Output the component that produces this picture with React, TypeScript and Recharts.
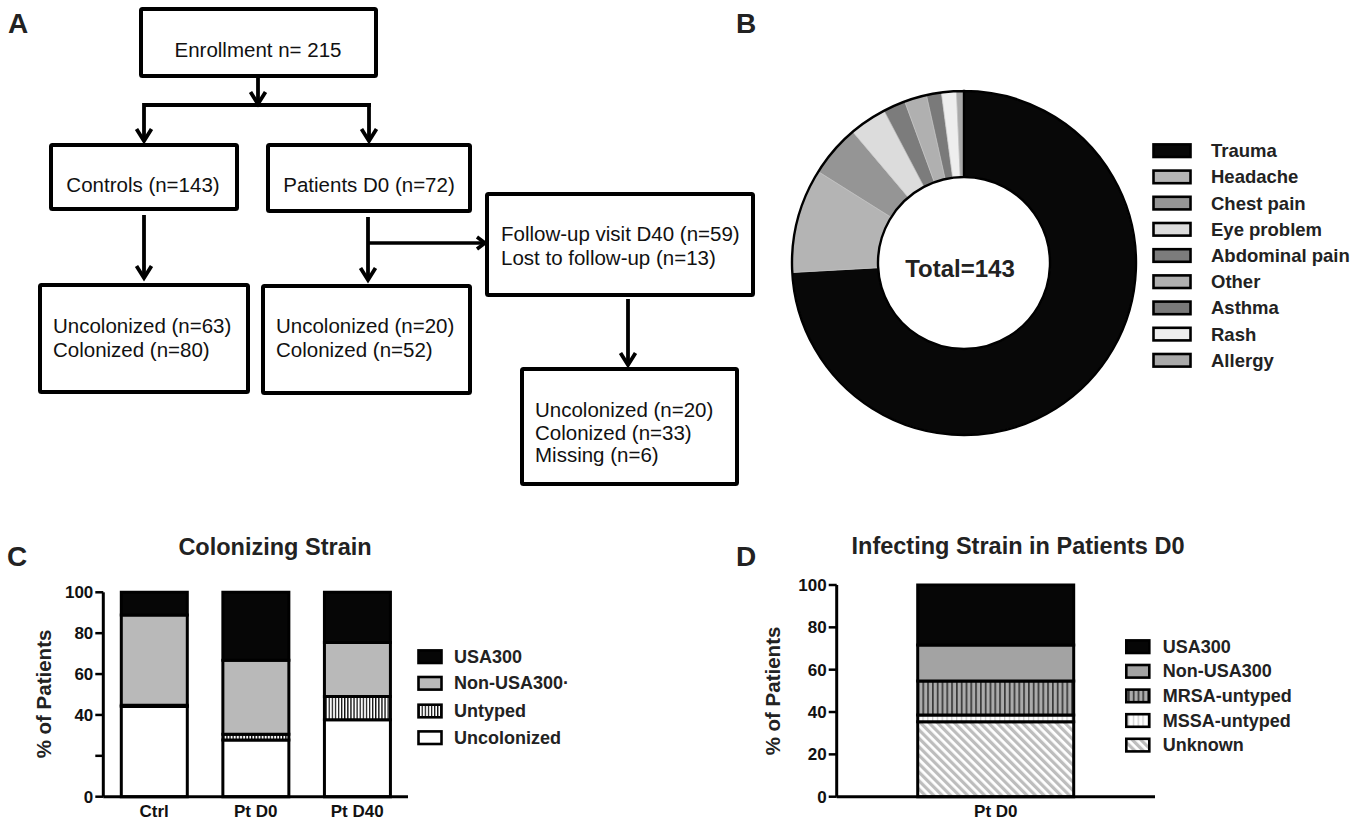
import React from 'react';
import { PieChart, Pie, Cell, BarChart, Bar, XAxis, YAxis } from 'recharts';

// ---------- Data ----------
const reasonLabels = ['Trauma', 'Headache', 'Chest pain', 'Eye problem', 'Abdominal pain', 'Other', 'Asthma', 'Rash', 'Allergy'];
const reasonCounts = [106, 14, 7, 5, 3, 3, 2, 2, 1];
const reasonColors = ['#080808', '#b4b4b4', '#959595', '#dcdcdc', '#7c7c7c', '#b0b0b0', '#7a7a7a', '#eeeeee', '#a9a9a9'];

const colGroups = ['Ctrl', 'Pt D0', 'Pt D40'];
const colUncolonized = [44.1, 27.8, 37.7];
const colUntyped = [0.7, 2.8, 11.3];
const colNonUSA300 = [44.1, 36.1, 26.4];
const colUSA300 = [11.1, 33.3, 24.6];
const colTicks = [0, 20, 40, 60, 80, 100];

const infGroups = ['Pt D0'];
const infUnknown = [35.4];
const infMSSA = [3.2];
const infMRSA = [16.0];
const infNonUSA300 = [17.1];
const infUSA300 = [28.3];
const infTicks = [0, 20, 40, 60, 80, 100];

const colLegend = ['USA300', 'Non-USA300·', 'Untyped', 'Uncolonized'];
const colLegendFill = ['#060606', '#b9b9b9', 'url(#patUntyped)', '#ffffff'];
const infLegend = ['USA300', 'Non-USA300', 'MRSA-untyped', 'MSSA-untyped', 'Unknown'];
const infLegendFill = ['#060606', '#a3a3a3', 'url(#patMRSA)', 'url(#patMSSA)', 'url(#patUnknown)'];

const pieData = reasonLabels.map((name, i) => ({ name, value: reasonCounts[i] }));
const colData = colGroups.map((g, i) => ({
  group: g,
  uncolonized: colUncolonized[i],
  untyped: colUntyped[i],
  nonusa: colNonUSA300[i],
  usa: colUSA300[i],
}));
const infData = infGroups.map((g, i) => ({
  group: g,
  unknown: infUnknown[i],
  mssa: infMSSA[i],
  mrsa: infMRSA[i],
  nonusa: infNonUSA300[i],
  usa: infUSA300[i],
}));

const FONT = '"Liberation Sans", Arial, Helvetica, sans-serif';
const W = 1368;
const H = 829;

// ---------- Flowchart helpers ----------
const LW = 4;
function Box({ x, y, w, h }: { x: number; y: number; w: number; h: number }) {
  return <rect x={x} y={y} width={w} height={h} fill="none" stroke="#000" strokeWidth={LW} rx={1.5} />;
}
function DownArrow({ x, y1, y2 }: { x: number; y1: number; y2: number }) {
  return (
    <g stroke="#000" strokeWidth={3.8} fill="none">
      <line x1={x} y1={y1} x2={x} y2={y2 - 1} />
      <polyline points={`${x - 7.5},${y2 - 12} ${x},${y2} ${x + 7.5},${y2 - 12}`} strokeLinejoin="miter" />
    </g>
  );
}
function RightArrow({ y, x1, x2 }: { y: number; x1: number; x2: number }) {
  return (
    <g stroke="#000" strokeWidth={3.6} fill="none">
      <line x1={x1} y1={y} x2={x2 - 1} y2={y} />
      <polyline points={`${x2 - 8},${y - 6} ${x2},${y} ${x2 - 8},${y + 6}`} />
    </g>
  );
}
function FT({ x, y, children, anchor = 'start' }: { x: number; y: number; children: React.ReactNode; anchor?: string }) {
  return (
    <text x={x} y={y} fontSize={20.5} fill="#111" textAnchor={anchor as any} dominantBaseline="central" fontFamily={FONT}>
      {children}
    </text>
  );
}

const tickStyle = { fill: '#111', fontSize: 17, fontWeight: 700, fontFamily: FONT };

export default function App() {
  return (
    <div style={{ position: 'absolute', left: 0, top: 0, width: W, height: H, background: '#fff', overflow: 'hidden', fontFamily: FONT }}>
      {/* Panel B pie */}
      <div style={{ position: 'absolute', left: 784, top: 83 }}>
        <PieChart width={360} height={360} margin={{ top: 0, right: 0, bottom: 0, left: 0 }}>
          <Pie
            data={pieData}
            dataKey="value"
            nameKey="name"
            cx={180}
            cy={180}
            innerRadius={86}
            outerRadius={172}
            startAngle={90}
            endAngle={-270}
            stroke="#c4c4c4"
            strokeWidth={0.6}
            isAnimationActive={false}
          >
            {pieData.map((d, i) => (
              <Cell key={d.name} fill={reasonColors[i]} />
            ))}
          </Pie>
          <Pie
            data={[{ name: 'outline', value: 1 }]}
            dataKey="value"
            cx={180}
            cy={180}
            innerRadius={86}
            outerRadius={172}
            startAngle={90}
            endAngle={-270}
            fill="none"
            stroke="#000"
            strokeWidth={2.4}
            isAnimationActive={false}
          />
        </PieChart>
      </div>

      {/* Panel C bars */}
      <div style={{ position: 'absolute', left: 0, top: 580 }}>
        <BarChart width={430} height={250} data={colData} margin={{ top: 12.3, right: 22, left: 43.3, bottom: 3.3 }} barSize={66}>
          <XAxis
            dataKey="group"
            axisLine={{ stroke: '#000', strokeWidth: 3 }}
            tickLine={false}
            tick={tickStyle}
            height={30}
          />
          <YAxis
            width={60}
            domain={[0, 100]}
            ticks={colTicks}
            interval={0}
            tickFormatter={(v: number) => (v === 20 ? '' : String(v))}
            axisLine={{ stroke: '#000', strokeWidth: 3 }}
            tickLine={{ stroke: '#000', strokeWidth: 2.5 }}
            tickSize={8}
            tick={tickStyle}
          />
          <Bar dataKey="uncolonized" stackId="a" fill="#ffffff" stroke="#000" strokeWidth={3} isAnimationActive={false} />
          <Bar dataKey="untyped" stackId="a" fill="url(#patUntyped)" stroke="#000" strokeWidth={3} isAnimationActive={false} />
          <Bar dataKey="nonusa" stackId="a" fill="#b9b9b9" stroke="#000" strokeWidth={3} isAnimationActive={false} />
          <Bar dataKey="usa" stackId="a" fill="#060606" stroke="#000" strokeWidth={3} isAnimationActive={false} />
        </BarChart>
      </div>

      {/* Panel D bars */}
      <div style={{ position: 'absolute', left: 740, top: 570 }}>
        <BarChart width={440} height={260} data={infData} margin={{ top: 15, right: 25, left: 36.7, bottom: 3.3 }} barSize={156}>
          <XAxis
            dataKey="group"
            axisLine={{ stroke: '#000', strokeWidth: 3 }}
            tickLine={false}
            tick={tickStyle}
            height={30}
          />
          <YAxis
            width={60}
            domain={[0, 100]}
            ticks={infTicks}
            interval={0}
            axisLine={{ stroke: '#000', strokeWidth: 3 }}
            tickLine={{ stroke: '#000', strokeWidth: 2.5 }}
            tickSize={8}
            tick={tickStyle}
          />
          <Bar dataKey="unknown" stackId="b" fill="url(#patUnknown)" stroke="#000" strokeWidth={3} isAnimationActive={false} />
          <Bar dataKey="mssa" stackId="b" fill="url(#patMSSA)" stroke="#000" strokeWidth={3} isAnimationActive={false} />
          <Bar dataKey="mrsa" stackId="b" fill="url(#patMRSA)" stroke="#000" strokeWidth={3} isAnimationActive={false} />
          <Bar dataKey="nonusa" stackId="b" fill="#a3a3a3" stroke="#000" strokeWidth={3} isAnimationActive={false} />
          <Bar dataKey="usa" stackId="b" fill="#060606" stroke="#000" strokeWidth={3} isAnimationActive={false} />
        </BarChart>
      </div>

      {/* Overlay: patterns, flowchart, labels, legends */}
      <svg width={W} height={H} style={{ position: 'absolute', left: 0, top: 0, pointerEvents: 'none' }}>
        <defs>
          <pattern id="patUntyped" patternUnits="userSpaceOnUse" width={3.1} height={10}>
            <rect x={0} y={0} width={3.1} height={10} fill="#fff" />
            <rect x={0} y={0} width={1.3} height={10} fill="#111" />
          </pattern>
          <pattern id="patMRSA" patternUnits="userSpaceOnUse" width={4.8} height={10}>
            <rect x={0} y={0} width={4.8} height={10} fill="#ababab" />
            <rect x={0} y={0} width={1.7} height={10} fill="#3a3a3a" />
          </pattern>
          <pattern id="patMSSA" patternUnits="userSpaceOnUse" width={4.8} height={10}>
            <rect x={0} y={0} width={4.8} height={10} fill="#ffffff" />
            <rect x={0} y={0} width={1.3} height={10} fill="#cfcfcf" />
          </pattern>
          <pattern id="patUnknown" patternUnits="userSpaceOnUse" width={6} height={6} patternTransform="rotate(-45)">
            <rect x={0} y={0} width={6} height={6} fill="#ffffff" />
            <rect x={0} y={0} width={3.2} height={6} fill="#bdbdbd" />
          </pattern>
        </defs>

        {/* Panel letters */}
        <g fontFamily={FONT} fontWeight={700} fontSize={28} fill="#222">
          <text x={8} y={33}>A</text>
          <text x={736} y={33}>B</text>
          <text x={7} y={566}>C</text>
          <text x={736} y={566}>D</text>
        </g>

        {/* Panel A flowchart */}
        <Box x={141} y={9} w={235} h={67} />
        <FT x={258} y={49} anchor="middle">Enrollment n= 215</FT>
        <DownArrow x={258} y1={78} y2={104} />
        <line x1={144} y1={105} x2={371} y2={105} stroke="#000" strokeWidth={LW} />
        <DownArrow x={144} y1={103} y2={141} />
        <DownArrow x={369} y1={103} y2={141} />

        <Box x={51} y={145} w={186} h={64} />
        <FT x={143} y={184} anchor="middle">Controls (n=143)</FT>
        <Box x={268} y={145} w={202} h={66} />
        <FT x={369} y={184} anchor="middle">Patients D0 (n=72)</FT>

        <DownArrow x={144} y1={215} y2={278} />
        <DownArrow x={368} y1={217} y2={280} />
        <RightArrow y={243} x1={368} x2={485} />

        <Box x={40} y={285} w={208} h={107} />
        <FT x={53} y={325}>Uncolonized (n=63)</FT>
        <FT x={53} y={349}>Colonized (n=80)</FT>

        <Box x={263} y={286} w={207} h={107} />
        <FT x={276} y={325}>Uncolonized (n=20)</FT>
        <FT x={276} y={349}>Colonized (n=52)</FT>

        <Box x={487} y={194} w={266} h={101} />
        <FT x={501} y={233}>Follow-up visit D40 (n=59)</FT>
        <FT x={501} y={257}>Lost to follow-up (n=13)</FT>

        <DownArrow x={628} y1={299} y2={365} />
        <Box x={522} y={369} w={215} h={115} />
        <FT x={535} y={409}>Uncolonized (n=20)</FT>
        <FT x={535} y={432}>Colonized (n=33)</FT>
        <FT x={535} y={454}>Missing (n=6)</FT>

        {/* Panel B center label + legend */}
        <text x={960} y={268} textAnchor="middle" dominantBaseline="central" fontFamily={FONT} fontWeight={700} fontSize={24} fill="#222">
          Total=143
        </text>
        {reasonLabels.map((lab, i) => {
          const cy = 150.7 + i * 26.2;
          return (
            <g key={lab}>
              <rect x={1153.5} y={cy - 6.3} width={37} height={12.6} fill={reasonColors[i]} stroke="#000" strokeWidth={2.6} />
              <text x={1211} y={cy} dominantBaseline="central" fontFamily={FONT} fontWeight={700} fontSize={18.5} fill="#222">
                {lab}
              </text>
            </g>
          );
        })}

        {/* Panel C title, axis title, legend */}
        <text x={275} y={547} textAnchor="middle" dominantBaseline="central" fontFamily={FONT} fontWeight={700} fontSize={23.5} fill="#222">
          Colonizing Strain
        </text>
        <text
          transform="translate(43,694) rotate(-90)"
          textAnchor="middle"
          dominantBaseline="central"
          fontFamily={FONT}
          fontWeight={700}
          fontSize={20.5}
          fill="#222"
        >
          % of Patients
        </text>
        {colLegend.map((lab, i) => {
          const cy = [656.7, 683.3, 711, 737.7][i];
          return (
            <g key={lab}>
              <rect x={418.5} y={cy - 6.3} width={23} height={12.6} fill={colLegendFill[i]} stroke="#000" strokeWidth={2.6} />
              <text x={454} y={cy} dominantBaseline="central" fontFamily={FONT} fontWeight={700} fontSize={18} fill="#222">
                {lab}
              </text>
            </g>
          );
        })}

        {/* Panel D title, axis title, legend */}
        <text x={1018} y={546} textAnchor="middle" dominantBaseline="central" fontFamily={FONT} fontWeight={700} fontSize={23.5} fill="#222">
          Infecting Strain in Patients D0
        </text>
        <text
          transform="translate(772,691) rotate(-90)"
          textAnchor="middle"
          dominantBaseline="central"
          fontFamily={FONT}
          fontWeight={700}
          fontSize={20.5}
          fill="#222"
        >
          % of Patients
        </text>
        {infLegend.map((lab, i) => {
          const cy = 646.7 + i * 24.6;
          return (
            <g key={lab}>
              <rect x={1126.3} y={cy - 6.3} width={23} height={12.6} fill={infLegendFill[i]} stroke="#000" strokeWidth={2.6} />
              <text x={1162.7} y={cy} dominantBaseline="central" fontFamily={FONT} fontWeight={700} fontSize={18} fill="#222">
                {lab}
              </text>
            </g>
          );
        })}
      </svg>
    </div>
  );
}
